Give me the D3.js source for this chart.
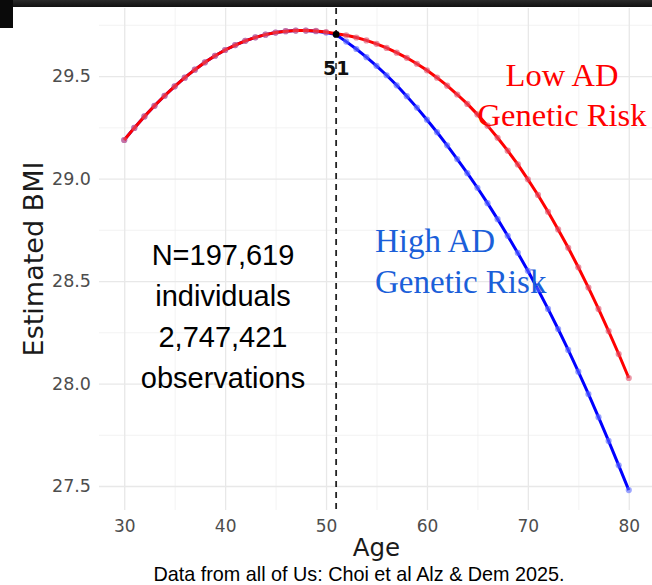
<!DOCTYPE html>
<html>
<head>
<meta charset="utf-8">
<script src="https://cdn.jsdelivr.net/npm/d3@7"></script>
<style>
  html, body { margin: 0; padding: 0; background: #fff; }
  svg { display: block; }
</style>
</head>
<body>
<svg id="chart" width="652" height="585"></svg>
<script>
// Data
const ages = d3.range(30, 81);
const lowRisk = [29.188, 29.247, 29.303, 29.355, 29.404, 29.450, 29.492, 29.531, 29.567, 29.599,
  29.627, 29.651, 29.672, 29.689, 29.702, 29.712, 29.719, 29.722, 29.722, 29.720,
  29.715, 29.706, 29.699, 29.688, 29.674, 29.657, 29.637, 29.614, 29.589, 29.560,
  29.528, 29.492, 29.453, 29.410, 29.364, 29.313, 29.258, 29.199, 29.136, 29.069,
  28.996, 28.920, 28.838, 28.752, 28.662, 28.567, 28.468, 28.364, 28.256, 28.144,
  28.027];
const highRisk = [29.188, 29.247, 29.303, 29.355, 29.404, 29.450, 29.492, 29.531, 29.567, 29.599,
  29.627, 29.651, 29.672, 29.689, 29.702, 29.712, 29.719, 29.722, 29.722, 29.719,
  29.712, 29.702, 29.668, 29.632, 29.592, 29.550, 29.504, 29.455, 29.402, 29.346,
  29.287, 29.226, 29.162, 29.095, 29.026, 28.955, 28.880, 28.802, 28.721, 28.637,
  28.550, 28.459, 28.364, 28.266, 28.164, 28.058, 27.949, 27.836, 27.720, 27.601,
  27.480];
const xTicks = [30, 40, 50, 60, 70, 80];
const xMinor = [35, 45, 55, 65, 75];
const yTicks = [27.5, 28.0, 28.5, 29.0, 29.5];
const yMinor = [27.75, 28.25, 28.75, 29.25, 29.75];
const splitAge = 51;
const splitValue = 29.703;
const noteLines = ["N=197,619", "individuals", "2,747,421", "observations"];
const lowLabel = ["Low AD", "Genetic Risk"];
const highLabel = ["High AD", "Genetic Risk"];

const svg = d3.select("#chart");
const width = 652, height = 585;
const panel = { left: 99, right: 654, top: 8, bottom: 510 };

const x = d3.scaleLinear().domain([27.5, 82.5]).range([panel.left, panel.right]);
const y = d3.scaleLinear().domain([27.383, 29.832]).range([panel.bottom, panel.top]);

// grille
svg.append("g")
  .attr("transform", `translate(0,${panel.bottom})`)
  .call(d3.axisBottom(x).tickValues(xMinor).tickSize(-(panel.bottom - panel.top)).tickFormat(""))
  .call(g => g.select(".domain").remove())
  .call(g => g.selectAll("line").attr("stroke", "#f0f0f0").attr("stroke-width", 0.8));
svg.append("g")
  .attr("transform", `translate(${panel.left},0)`)
  .call(d3.axisLeft(y).tickValues(yMinor).tickSize(-(panel.right - panel.left)).tickFormat(""))
  .call(g => g.select(".domain").remove())
  .call(g => g.selectAll("line").attr("stroke", "#f0f0f0").attr("stroke-width", 0.8));
svg.append("g")
  .attr("transform", `translate(0,${panel.bottom})`)
  .call(d3.axisBottom(x).tickValues(xTicks).tickSize(-(panel.bottom - panel.top)).tickFormat(""))
  .call(g => g.select(".domain").remove())
  .call(g => g.selectAll("line").attr("stroke", "#e8e8e8").attr("stroke-width", 1.3));
svg.append("g")
  .attr("transform", `translate(${panel.left},0)`)
  .call(d3.axisLeft(y).tickValues(yTicks).tickSize(-(panel.right - panel.left)).tickFormat(""))
  .call(g => g.select(".domain").remove())
  .call(g => g.selectAll("line").attr("stroke", "#e8e8e8").attr("stroke-width", 1.3));

// axes (labels only)
svg.append("g")
  .attr("transform", `translate(0,${panel.bottom})`)
  .call(d3.axisBottom(x).tickValues(xTicks).tickSize(0).tickPadding(10).tickFormat(d3.format("d")))
  .call(g => g.select(".domain").remove())
  .call(g => g.selectAll("text").attr("font-family", "DejaVu Sans").attr("font-size", 17).attr("fill", "#4d4d4d"));
svg.append("g")
  .attr("transform", `translate(${panel.left},0)`)
  .call(d3.axisLeft(y).tickValues(yTicks).tickSize(0).tickPadding(8).tickFormat(d3.format(".1f")))
  .call(g => g.select(".domain").remove())
  .call(g => g.selectAll("text").attr("font-family", "DejaVu Sans").attr("font-size", 17.5).attr("fill", "#4d4d4d"));

svg.append("text")
  .attr("x", (panel.left + panel.right) / 2).attr("y", 556)
  .attr("text-anchor", "middle")
  .attr("font-family", "DejaVu Sans").attr("font-size", 24.5).attr("fill", "#1a1a1a")
  .text("Age");
svg.append("text")
  .attr("transform", `translate(43,${(panel.top + panel.bottom) / 2}) rotate(-90)`)
  .attr("text-anchor", "middle")
  .attr("font-family", "DejaVu Sans").attr("font-size", 27).attr("fill", "#1a1a1a")
  .text("Estimated BMI");

// ligne pointillée à 51 ans
svg.append("line")
  .attr("x1", x(splitAge)).attr("x2", x(splitAge))
  .attr("y1", panel.top).attr("y2", panel.bottom + 2)
  .attr("stroke", "#222").attr("stroke-width", 1.8).attr("stroke-dasharray", "6,5");

// courbes
const line = d3.line().x((d, i) => x(ages[i])).y(d => y(d));
function drawSeries(values, lineColor, dotColor) {
  svg.append("path")
    .datum(values)
    .attr("d", line)
    .attr("fill", "none")
    .attr("stroke", lineColor)
    .attr("stroke-width", 3);
  svg.append("g")
    .selectAll("circle")
    .data(values)
    .enter()
    .append("circle")
    .attr("cx", (d, i) => x(ages[i]))
    .attr("cy", d => y(d))
    .attr("r", 3.1)
    .attr("fill", dotColor)
    .attr("fill-opacity", 0.6);
}
drawSeries(highRisk, "#0000ff", "#5b6bff");
drawSeries(lowRisk, "#ff0000", "#e0506a");

svg.append("circle")
  .attr("cx", x(splitAge)).attr("cy", y(splitValue))
  .attr("r", 3.4).attr("fill", "#000");

svg.append("text")
  .attr("x", x(splitAge)).attr("y", 75)
  .attr("text-anchor", "middle")
  .attr("font-family", "DejaVu Sans").attr("font-weight", "bold").attr("font-size", 19)
  .attr("fill", "#111")
  .text(splitAge);
// re-dessine le tiret au-dessus du texte
svg.append("line")
  .attr("x1", x(splitAge)).attr("x2", x(splitAge))
  .attr("y1", 57).attr("y2", 77)
  .attr("stroke", "#666").attr("stroke-width", 1.4).attr("stroke-dasharray", "6,5")
  .attr("stroke-dashoffset", 5);

// annotations
svg.append("g")
  .selectAll("text")
  .data(noteLines)
  .enter()
  .append("text")
  .attr("x", 223)
  .attr("y", (d, i) => 265 + i * 41)
  .attr("text-anchor", "middle")
  .attr("font-family", "Liberation Sans, Arial").attr("font-size", 29)
  .attr("fill", "#000")
  .text(d => d);

svg.append("g")
  .selectAll("text")
  .data(lowLabel)
  .enter()
  .append("text")
  .attr("x", 562)
  .attr("y", (d, i) => 86 + i * 40)
  .attr("text-anchor", "middle")
  .attr("font-family", "Liberation Serif").attr("font-size", 32.5)
  .attr("fill", "#ff0000")
  .text(d => d);

svg.append("g")
  .selectAll("text")
  .data(highLabel)
  .enter()
  .append("text")
  .attr("x", 375)
  .attr("y", (d, i) => 252 + i * 41)
  .attr("font-family", "Liberation Serif").attr("font-size", 33)
  .attr("fill", "#1b5fd9")
  .text(d => d);

svg.append("text")
  .attr("x", 359).attr("y", 581)
  .attr("text-anchor", "middle")
  .attr("font-family", "Liberation Sans, Arial").attr("font-size", 19.8)
  .attr("fill", "#000")
  .text("Data from all of Us: Choi et al Alz & Dem 2025.");

// bandeau noir en haut
const grad = svg.append("defs").append("linearGradient")
  .attr("id", "topbar").attr("x1", 0).attr("x2", 0).attr("y1", 0).attr("y2", 1);
grad.append("stop").attr("offset", "0%").attr("stop-color", "#2a2a2a");
grad.append("stop").attr("offset", "100%").attr("stop-color", "#111");
svg.append("rect").attr("x", 0).attr("y", 0).attr("width", width).attr("height", 7).attr("fill", "url(#topbar)");
svg.append("rect").attr("x", 0).attr("y", 0).attr("width", 13).attr("height", 28).attr("fill", "#0a0a0a");
</script>
</body>
</html>
